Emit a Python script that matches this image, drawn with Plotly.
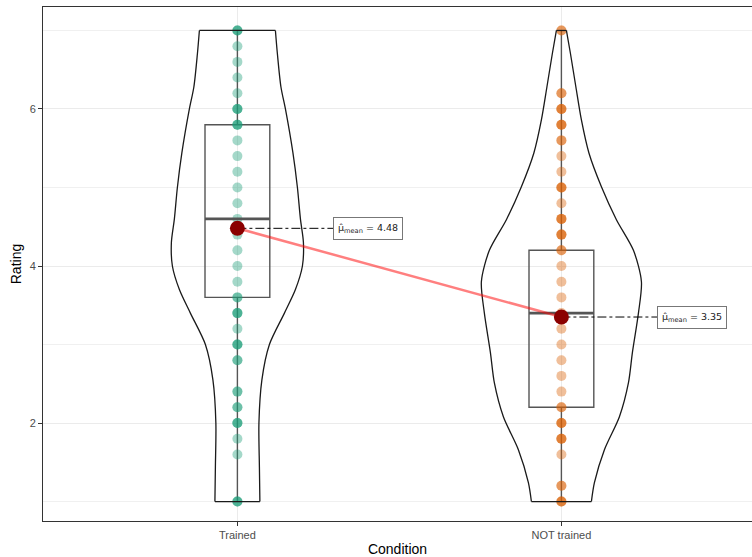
import plotly.graph_objects as go

# ---------------- data ----------------
conditions = ["Trained", "NOT trained"]
cond_pos = [1, 2]
cond_colors = ["#1B9E77", "#D95F02"]

# distinct ratings and how many participants gave each (read from dot darkness)
trained_values = [1.0, 1.6, 1.8, 2.0, 2.2, 2.4, 2.8, 3.0, 3.2, 3.4, 3.6, 3.8, 4.0, 4.2,
                  4.4, 4.6, 4.8, 5.0, 5.2, 5.4, 5.6, 5.8, 6.0, 6.2, 6.4, 6.6, 6.8, 7.0]
trained_counts = [3, 1, 1, 3, 2, 2, 2, 3, 1, 3, 2, 1, 1, 1,
                  1, 1, 1, 1, 1, 1, 1, 3, 3, 1, 1, 1, 1, 3]
not_values = [1.0, 1.2, 1.6, 1.8, 2.0, 2.2, 2.4, 2.6, 2.8, 3.0, 3.2, 3.4, 3.6, 3.8,
              4.0, 4.2, 4.4, 4.6, 4.8, 5.0, 5.2, 5.4, 5.6, 5.8, 6.0, 6.2, 7.0]
not_counts = [3, 2, 1, 3, 3, 2, 1, 1, 1, 1, 1, 1, 1, 1,
              1, 2, 3, 3, 1, 3, 1, 1, 2, 3, 3, 2, 2]

# box statistics
box_q1 = [3.6, 2.2]
box_median = [4.6, 3.4]
box_q3 = [5.8, 4.2]
box_low = [1.0, 1.0]
box_high = [7.0, 7.0]

# means
means = [4.48, 3.35]
mean_labels = ["4.48", "3.35"]

# violin densities (relative to the widest point of both violins)
trained_dens_y = [1.0, 1.44, 2.0, 2.55, 3.0, 3.4, 3.7, 4.0, 4.3, 4.6, 5.0, 5.44, 6.0, 6.28, 6.7, 7.0]
trained_dens = [0.281, 0.275, 0.269, 0.306, 0.40, 0.5875, 0.725, 0.8125, 0.825, 0.7875,
                0.75, 0.694, 0.60, 0.544, 0.50, 0.475]
not_dens_y = [1.0, 1.24, 1.66, 2.08, 2.51, 2.9, 3.4, 3.8, 4.2, 4.59, 5.01, 5.44, 5.86, 6.28, 6.71, 7.0]
not_dens = [0.375, 0.4125, 0.5375, 0.725, 0.8375, 0.8875, 0.9625, 1.0, 0.90, 0.6875,
            0.50, 0.344, 0.25, 0.181, 0.1125, 0.0625]

y_ticks = [2, 4, 6]
y_minor = [1, 3, 5, 7]

# ---------------- figure ----------------
VIOLIN_HALF = 0.247   # max half width in category units
BOX_WIDTH = 0.2
LABEL_OFFSET = 0.296

fig = go.Figure()

groups = [
    (trained_values, trained_counts, trained_dens_y, trained_dens),
    (not_values, not_counts, not_dens_y, not_dens),
]

# points
for i, (vals, cnts, dy, dd) in enumerate(groups):
    ys = []
    for v, c in zip(vals, cnts):
        ys += [v] * c
    fig.add_trace(go.Scatter(
        x=[cond_pos[i]] * len(ys), y=ys, mode="markers",
        marker=dict(color=cond_colors[i], size=10, opacity=0.4, line=dict(width=0)),
        showlegend=False, hoverinfo="skip"))

# boxes
for i in range(2):
    fig.add_trace(go.Box(
        x=[cond_pos[i]], q1=[box_q1[i]], median=[box_median[i]], q3=[box_q3[i]],
        lowerfence=[box_low[i]], upperfence=[box_high[i]],
        width=BOX_WIDTH, whiskerwidth=0, boxpoints=False,
        line=dict(color="#555555", width=1.4), fillcolor="rgba(0,0,0,0)",
        showlegend=False, hoverinfo="skip"))
    fig.add_trace(go.Scatter(
        x=[cond_pos[i] - BOX_WIDTH / 2, cond_pos[i] + BOX_WIDTH / 2],
        y=[box_median[i], box_median[i]], mode="lines",
        line=dict(color="#555555", width=2.6), showlegend=False, hoverinfo="skip"))

# violins
for i, (vals, cnts, dy, dd) in enumerate(groups):
    c = cond_pos[i]
    left_x = [c - d * VIOLIN_HALF for d in dd]
    right_x = [c + d * VIOLIN_HALF for d in dd]
    for sx in (left_x, right_x):
        fig.add_trace(go.Scatter(
            x=sx, y=dy, mode="lines", line=dict(color="#1a1a1a", width=1.3, shape="spline", smoothing=0.8),
            showlegend=False, hoverinfo="skip"))
    for k in (0, -1):
        fig.add_trace(go.Scatter(
            x=[left_x[k], right_x[k]], y=[dy[k], dy[k]], mode="lines",
            line=dict(color="#1a1a1a", width=1.3), showlegend=False, hoverinfo="skip"))

# mean connecting line
fig.add_trace(go.Scatter(
    x=cond_pos, y=means, mode="lines",
    line=dict(color="rgba(255,0,0,0.5)", width=2.5), showlegend=False, hoverinfo="skip"))

# dash-dot leader lines
for i in range(2):
    fig.add_trace(go.Scatter(
        x=[cond_pos[i], cond_pos[i] + LABEL_OFFSET], y=[means[i], means[i]], mode="lines",
        line=dict(color="black", width=1, dash="dashdot"), showlegend=False, hoverinfo="skip"))

# mean points
fig.add_trace(go.Scatter(
    x=cond_pos, y=means, mode="markers",
    marker=dict(color="#8B0000", size=15, line=dict(width=0)),
    showlegend=False, hoverinfo="skip"))

# mean labels
for i in range(2):
    fig.add_annotation(
        x=cond_pos[i] + LABEL_OFFSET, y=means[i], xanchor="left", yanchor="middle",
        text="\u03bc\u0302<sub>mean</sub> = " + mean_labels[i], showarrow=False,
        font=dict(family="DejaVu Sans", size=9.5, color="#1a1a1a"),
        bgcolor="white", bordercolor="#777777", borderwidth=1, borderpad=4)

fig.update_layout(
    width=752, height=557,
    margin=dict(l=43, r=0, t=7, b=36),
    paper_bgcolor="white", plot_bgcolor="white",
    font=dict(family="Liberation Sans, Arial", color="black"),
    xaxis=dict(
        range=[0.4, 0.4 + 709 / 324], tickvals=cond_pos, ticktext=conditions,
        showgrid=True, gridcolor="#ebebeb", gridwidth=1, zeroline=False,
        showline=True, mirror=True, linecolor="#333333", linewidth=1,
        ticks="outside", ticklen=4, tickcolor="#333333", tickwidth=1,
        tickfont=dict(size=11, color="#4d4d4d"),
        title=dict(text="Condition", font=dict(size=14, color="black"), standoff=4),
    ),
    yaxis=dict(
        range=[0.752, 7.299], tickvals=y_ticks,
        showgrid=True, gridcolor="#ebebeb", gridwidth=1, zeroline=False,
        showline=True, mirror=False, linecolor="#333333", linewidth=1,
        ticks="outside", ticklen=4, tickcolor="#333333", tickwidth=1,
        tickfont=dict(size=11, color="#4d4d4d"),
        minor=dict(tickvals=y_minor, showgrid=True, gridcolor="#f0f0f0", gridwidth=0.6, ticks=""),
        title=dict(text="Rating", font=dict(size=14, color="black"), standoff=4),
    ),
)

fig.write_html("out.html")
